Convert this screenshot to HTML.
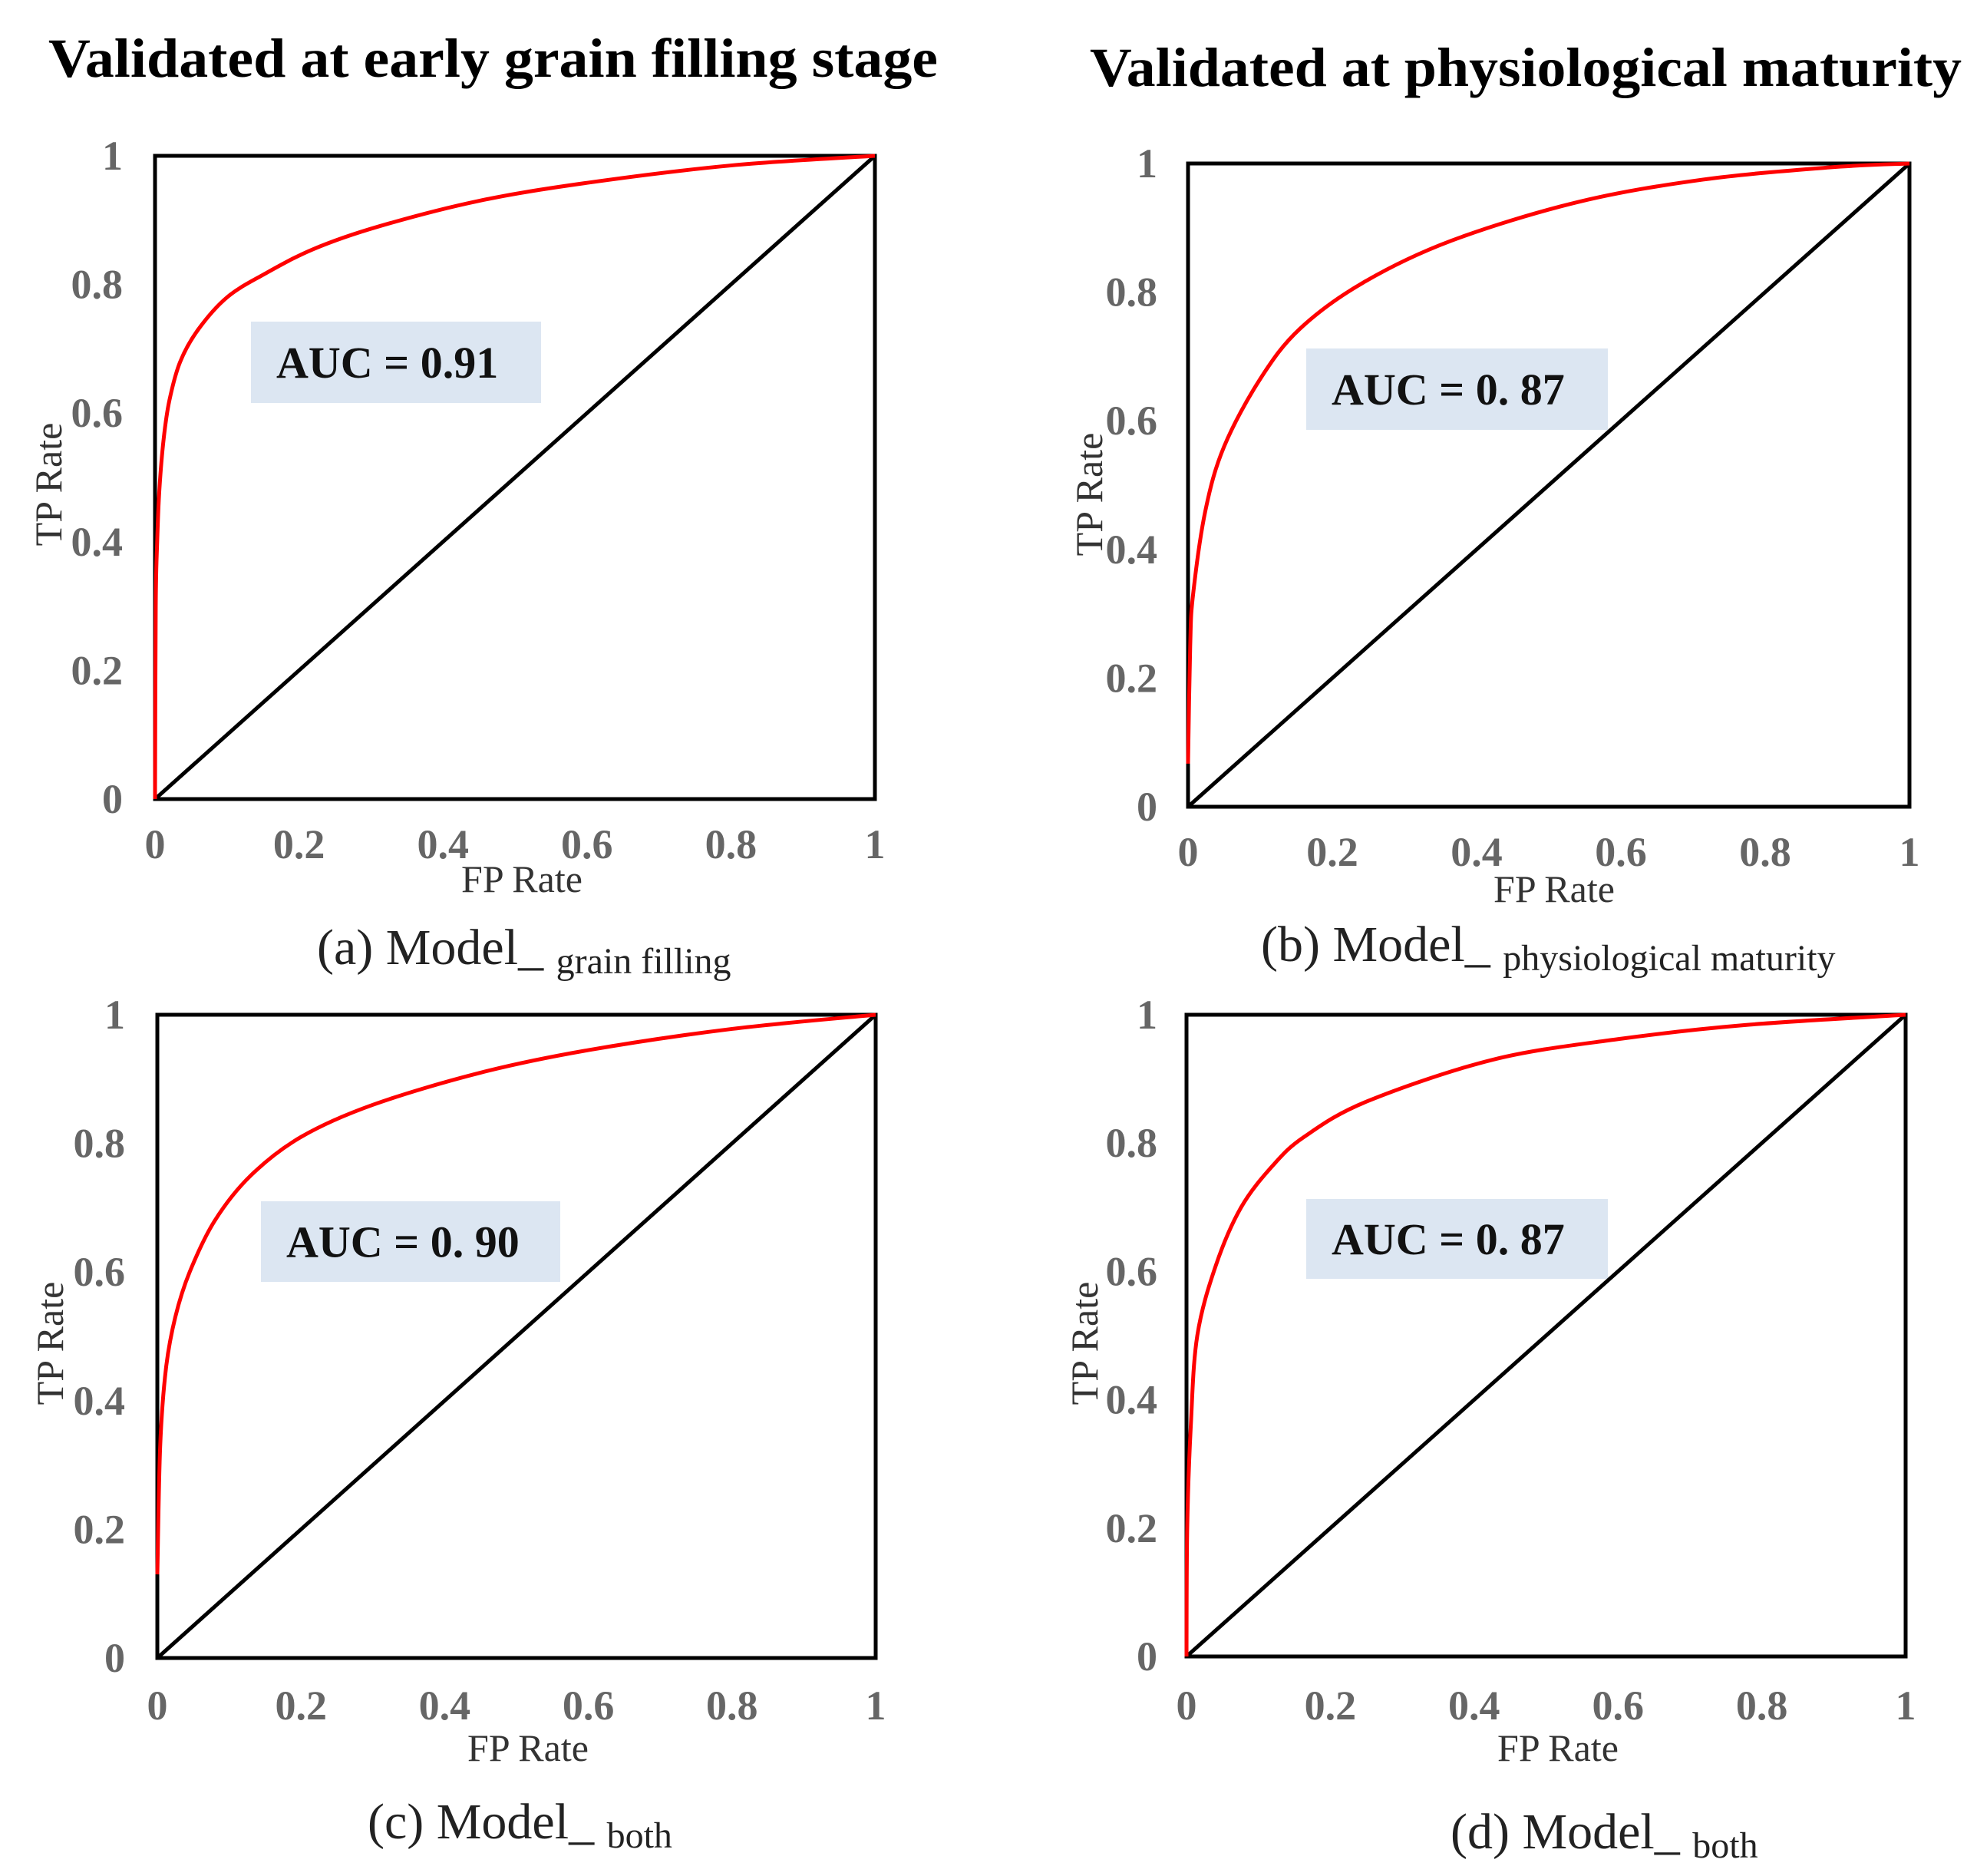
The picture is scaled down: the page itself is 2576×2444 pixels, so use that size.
<!DOCTYPE html>
<html><head><meta charset="utf-8">
<style>
html,body{margin:0;padding:0;background:#fff;}
svg{display:block;}
.tick{font-family:"Liberation Serif",serif;font-weight:bold;font-size:54px;fill:#666;}
.axt{font-family:"Liberation Serif",serif;font-size:50px;fill:#333;}
.cap{font-family:"Liberation Serif",serif;font-size:66px;fill:#222;}
.sub{font-size:48px;}
.auc{font-family:"Liberation Serif",serif;font-weight:bold;font-size:58px;fill:#111;}
.title{font-family:"Liberation Serif",serif;font-weight:bold;font-size:72px;fill:#000;}
</style></head>
<body>
<svg id="fig" width="2576" height="2444" viewBox="0 0 2576 2444" xmlns="http://www.w3.org/2000/svg">
<text class="title" x="63" y="100" textLength="1159" lengthAdjust="spacingAndGlyphs">Validated at early grain filling stage</text>
<text class="title" x="1420" y="112" textLength="1136" lengthAdjust="spacingAndGlyphs">Validated at physiological maturity</text>
</svg>
<script>
// Panel data (FP rate / TP rate points)
const ticks = [0, 0.2, 0.4, 0.6, 0.8, 1];
const tickLabels = ["0", "0.2", "0.4", "0.6", "0.8", "1"];
const fprA = [0, 0.001, 0.003, 0.006, 0.012, 0.02, 0.035, 0.06, 0.1, 0.15, 0.22, 0.31, 0.45, 0.6, 0.8, 1];
const tprA = [0, 0.3, 0.4, 0.48, 0.56, 0.62, 0.68, 0.73, 0.78, 0.815, 0.855, 0.89, 0.93, 0.958, 0.985, 1];
const fprB = [0, 0.003, 0.007, 0.024, 0.05, 0.1, 0.155, 0.243, 0.365, 0.54, 0.714, 0.89, 1];
const tprB = [0.067, 0.25, 0.33, 0.46, 0.56, 0.665, 0.743, 0.815, 0.88, 0.94, 0.975, 0.994, 1];
const fprC = [0, 0.004, 0.012, 0.025, 0.045, 0.08, 0.13, 0.2, 0.3, 0.45, 0.6, 0.8, 1];
const tprC = [0.13, 0.33, 0.45, 0.53, 0.6, 0.68, 0.75, 0.81, 0.86, 0.91, 0.945, 0.978, 1];
const fprD = [0, 0.001, 0.006, 0.015, 0.041, 0.076, 0.12, 0.164, 0.251, 0.426, 0.6, 0.777, 1];
const tprD = [0, 0.2, 0.36, 0.5, 0.61, 0.7, 0.765, 0.81, 0.865, 0.93, 0.962, 0.984, 1];
const aucLabels = ["AUC = 0.91", "AUC = 0. 87", "AUC = 0. 90", "AUC = 0. 87"];
const captionMain = ["(a) Model_", "(b) Model_", "(c) Model_", "(d) Model_"];
const captionSub = ["grain filling", "physiological maturity", "both", "both"];

const NS = "http://www.w3.org/2000/svg";
const svg = document.getElementById("fig");
function mk(tag, attrs, parent) {
  const e = document.createElementNS(NS, tag);
  for (const k in attrs) e.setAttribute(k, attrs[k]);
  (parent || svg).appendChild(e);
  return e;
}
const panels = [
  {id:"a", x0:202, x1:1140, y0:203, y1:1041, fpr:fprA, tpr:tprA, ylr:160, xly:1118, fp:[680,1162], tp:[80,631], box:[327,419,378,106], cap:[413,1256]},
  {id:"b", x0:1548, x1:2488, y0:213, y1:1051, fpr:fprB, tpr:tprB, ylr:1508, xly:1128, fp:[2025,1175], tp:[1436,644], box:[1702,454,393,106], cap:[1643,1252]},
  {id:"c", x0:205, x1:1141, y0:1322, y1:2160, fpr:fprC, tpr:tprC, ylr:163, xly:2240, fp:[688,2294], tp:[82,1750], box:[340,1565,390,105], cap:[479,2395]},
  {id:"d", x0:1546, x1:2483, y0:1322, y1:2158, fpr:fprD, tpr:tprD, ylr:1508, xly:2240, fp:[2030,2294], tp:[1430,1750], box:[1702,1562,393,104], cap:[1890,2408]}
];
function smoothPath(pts) {
  let d = "M" + pts[0][0] + "," + pts[0][1];
  for (let i = 0; i < pts.length - 1; i++) {
    const p0 = pts[Math.max(0, i - 1)], p1 = pts[i], p2 = pts[i + 1], p3 = pts[Math.min(pts.length - 1, i + 2)];
    const c1x = p1[0] + (p2[0] - p0[0]) / 6, c1y = p1[1] + (p2[1] - p0[1]) / 6;
    const c2x = p2[0] - (p3[0] - p1[0]) / 6, c2y = p2[1] - (p3[1] - p1[1]) / 6;
    d += " C" + c1x + "," + c1y + " " + c2x + "," + c2y + " " + p2[0] + "," + p2[1];
  }
  return d;
}
panels.forEach((p, i) => {
  const g = mk("g", {});
  
  
  const sx = v => p.x0 + v * (p.x1 - p.x0);
  const sy = v => p.y1 - v * (p.y1 - p.y0);
  const fr = mk("rect", {x:p.x0, y:p.y0, width:p.x1 - p.x0, height:p.y1 - p.y0, fill:"none", stroke:"#000", "stroke-width":5}, g);
  
  
  const ab = mk("rect", {x:p.box[0], y:p.box[1], width:p.box[2], height:p.box[3], fill:"#dce6f2"}, g);
  
  
  const at = mk("text", {class:"auc", x:p.box[0] + 33, y:p.box[1] + p.box[3] / 2 + 20}, g);
  at.textContent = aucLabels[i];
  
  
  const dg = mk("line", {x1:sx(0), y1:sy(0), x2:sx(1), y2:sy(1), stroke:"#000", "stroke-width":5}, g);
  
  
  const pts = p.fpr.map((v, k) => [sx(v), sy(p.tpr[k])]);
  const rc = mk("path", {d:smoothPath(pts), fill:"none", stroke:"#ff0000", "stroke-width":5, "stroke-linejoin":"round"}, g);
  
  
  ticks.forEach((t, k) => {
    const yl = mk("text", {class:"tick", x:p.ylr, y:sy(t) + 18, "text-anchor":"end"}, g);
    yl.textContent = tickLabels[k];
    
    
    const xl = mk("text", {class:"tick", x:sx(t), y:p.xly, "text-anchor":"middle"}, g);
    xl.textContent = tickLabels[k];
    
    
  });
  const fx = mk("text", {class:"axt", x:p.fp[0], y:p.fp[1], "text-anchor":"middle"}, g);
  fx.textContent = "FP Rate";
  
  
  const ty = mk("text", {class:"axt", x:0, y:0, "text-anchor":"middle", transform:"translate(" + p.tp[0] + "," + p.tp[1] + ") rotate(-90)"}, g);
  ty.textContent = "TP Rate";
  
  
  const cp = mk("text", {class:"cap", x:p.cap[0], y:p.cap[1]}, g);
  
  
  const t1 = mk("tspan", {}, cp);
  t1.textContent = captionMain[i] + " ";
  const t2 = mk("tspan", {class:"sub", dy:12}, cp);
  t2.textContent = captionSub[i];
});
</script>
</body></html>
